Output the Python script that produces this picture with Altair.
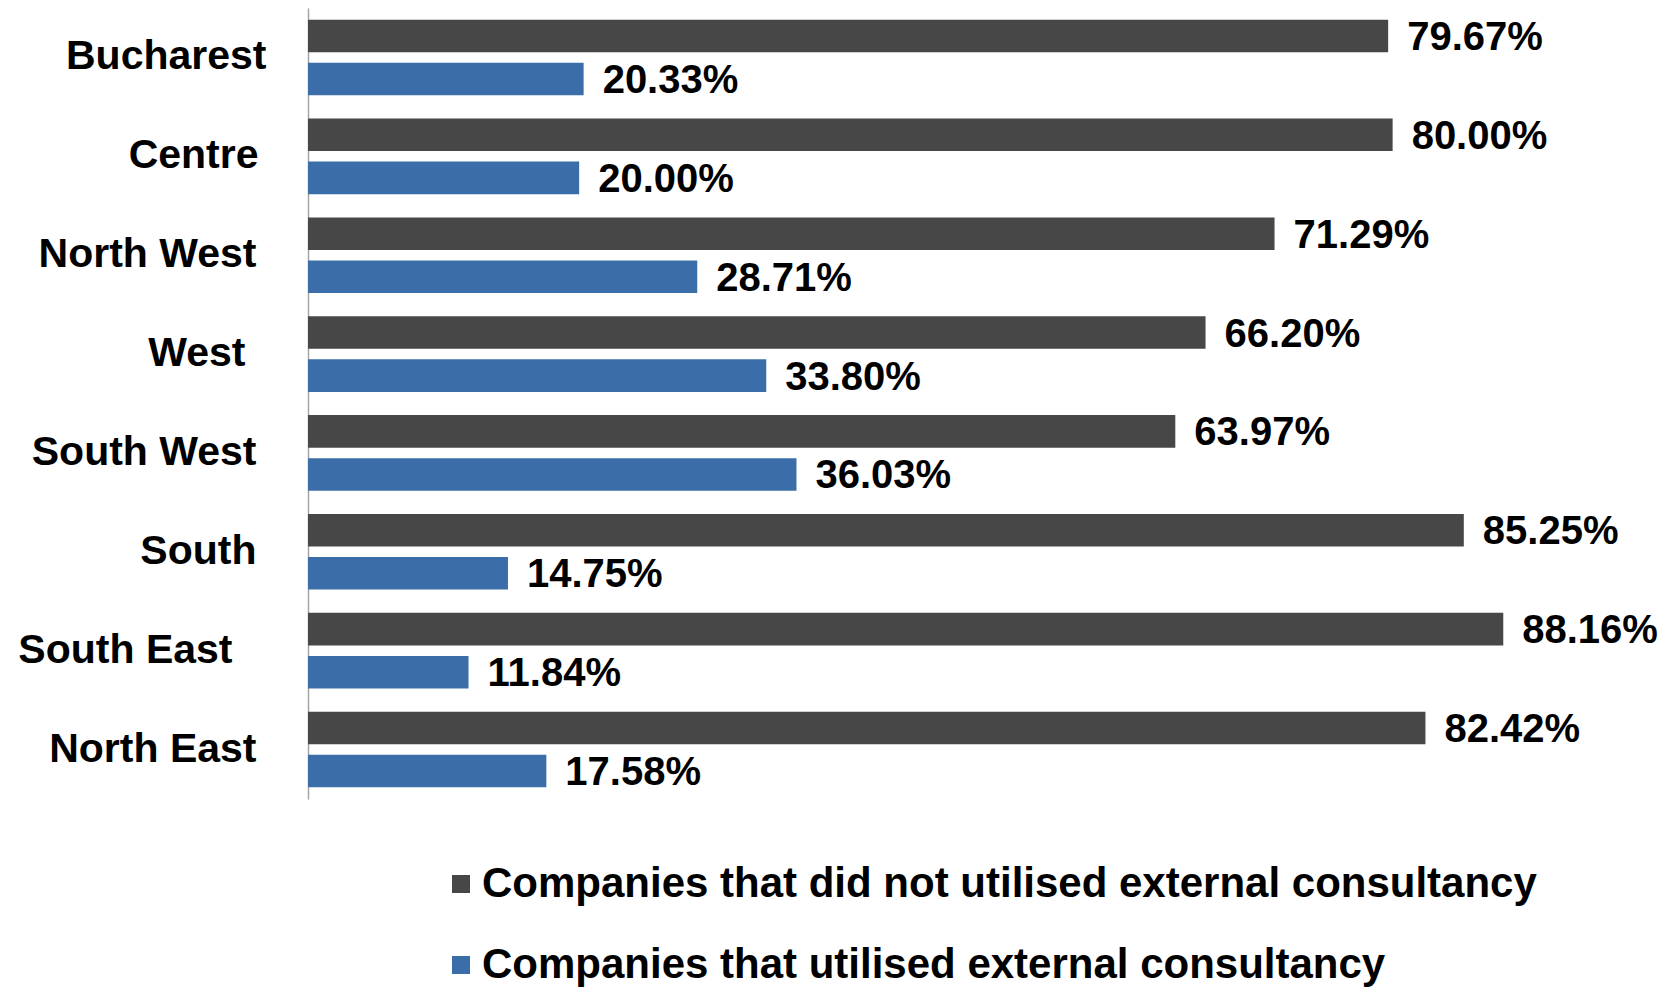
import altair as alt
import pandas as pd

regions = ["Bucharest", "Centre", "North West", "West", "South West", "South", "South East", "North East"]
not_utilised = [79.67, 80.00, 71.29, 66.20, 63.97, 85.25, 88.16, 82.42]
utilised = [20.33, 20.00, 28.71, 33.80, 36.03, 14.75, 11.84, 17.58]
series_names = ["Companies that did not utilised external consultancy",
                "Companies that utilised external consultancy"]
colors = ["#474747", "#3b6ea8"]

rows = []
for r, a, b in zip(regions, not_utilised, utilised):
    rows.append({"region": r, "series": series_names[0], "value": a})
    rows.append({"region": r, "series": series_names[1], "value": b})
df = pd.DataFrame(rows)

FONT = "Liberation Sans"

label_pad = {
    "condition": [
        {"test": "datum.value == 'Bucharest'", "value": 42},
        {"test": "datum.value == 'Centre'", "value": 50},
        {"test": "datum.value == 'West'", "value": 63},
        {"test": "datum.value == 'South East'", "value": 76},
    ],
    "value": 52,
}

y_enc = alt.Y("region:N", sort=regions,
              scale=alt.Scale(paddingInner=0.235, paddingOuter=0.118),
              axis=alt.Axis(title=None, ticks=False, labelPadding=label_pad, labelLimit=500,
                            labelFont=FONT, labelFontWeight="bold", labelFontSize=41,
                            labelColor="black", domainColor="#a6a6a6", domainWidth=1.5))
yoff = alt.YOffset("series:N", sort=series_names,
                   scale=alt.Scale(paddingInner=0.245, paddingOuter=0))
x_enc = alt.X("value:Q", scale=alt.Scale(domain=[0, 95], nice=False), axis=None)

bars = alt.Chart(df).mark_bar().encode(
    x=x_enc, y=y_enc, yOffset=yoff,
    color=alt.Color("series:N", sort=series_names,
                    scale=alt.Scale(domain=series_names, range=colors),
                    legend=alt.Legend(title=None, orient="none", legendX=132, legendY=855,
                                      direction="vertical", symbolType="square",
                                      symbolSize=324, symbolStrokeWidth=0,
                                      labelFont=FONT, labelFontWeight="bold",
                                      labelFontSize=42, labelColor="black",
                                      labelOffset=0, rowPadding=39, labelLimit=2000))
)

labels = alt.Chart(df).transform_calculate(
    lab="format(datum.value, '.2f') + '%'"
).mark_text(align="left", baseline="middle", dx=19, dy=2, font=FONT,
            fontWeight="bold", fontSize=40, color="black").encode(
    x=x_enc, y=y_enc, yOffset=yoff, text="lab:N"
)

chart = alt.layer(bars, labels).properties(
    width=1288, height=791,
    autosize=alt.AutoSizeParams(type="none"),
    padding={"left": 300, "top": 0, "right": 66, "bottom": 191}
).configure_view(stroke=None).configure_axis(grid=False)

chart.save("out.html", embed_options={"renderer": "svg", "actions": False})
